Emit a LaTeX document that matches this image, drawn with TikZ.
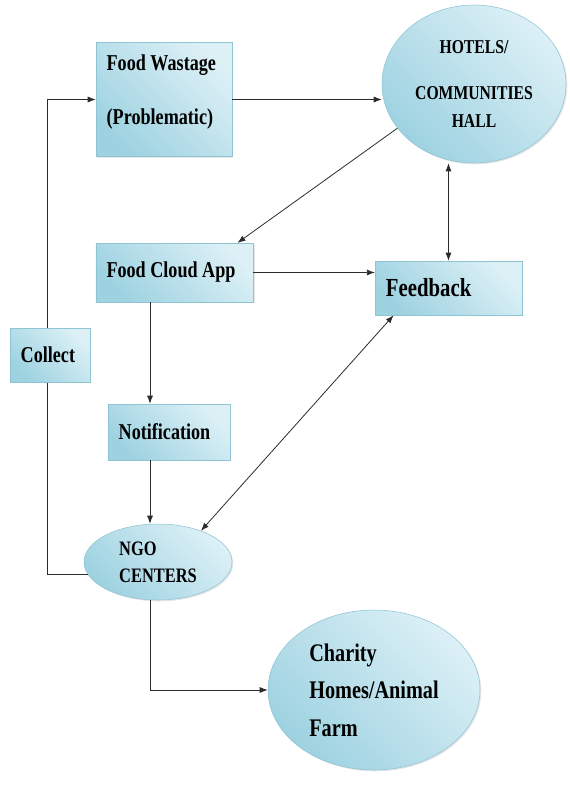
\documentclass[tikz,border=0pt]{standalone}
\usepackage{fontspec}
\setmainfont{Liberation Serif}
\newfontfamily\narrowserif[FakeStretch=0.8]{Liberation Serif}
\newcommand\fcsize[2]{\narrowserif\bfseries\fontsize{#1}{#2}\selectfont}
\definecolor{fcInk}{HTML}{2B2B2B}
\definecolor{fcLight}{HTML}{DCF0F6}
\definecolor{fcDark}{HTML}{9ED2E1}
\definecolor{fcEdge}{HTML}{8EC4D3}
\usetikzlibrary{arrows.meta,shapes.geometric,shadows}

\begin{document}
\begin{tikzpicture}[x=0.75pt,y=-0.75pt,
  flow/.style={draw=fcInk,line width=0.6pt,-{Latex[length=6pt,width=4.5pt]}},
  both/.style={flow,{Latex[length=6pt,width=4.5pt]}-{Latex[length=6pt,width=4.5pt]}},
  tint/.style={draw=fcEdge,left color=fcDark,right color=fcLight,shading angle=135,
               drop shadow={opacity=0.2,shadow xshift=1pt,shadow yshift=-1pt}},
  box/.style={tint,rectangle,align=flush left,inner xsep=8pt,inner ysep=0pt},
  blob/.style={tint,ellipse,inner sep=0pt}]
  \useasboundingbox (0,0) rectangle (569,786);

  \node[box,text width=86pt,minimum height=85.5pt,text depth=55pt,font=\fcsize{17}{20}] (waste) at (164,99.5)
    {Food Wastage\\[20pt](Problematic)};
  \node[blob,minimum width=138pt,minimum height=118.5pt,align=flush center,font=\fcsize{14.7}{21}] (hotels) at (474,84)
    {HOTELS/\\[14pt]COMMUNITIES\\HALL};
  \node[box,text width=102pt,minimum height=44pt,font=\fcsize{17}{20}] (app) at (174.5,272.5) {Food Cloud App};
  \node[box,text width=94pt,minimum height=40.5pt,font=\fcsize{19.5}{22}] (feedback) at (448.5,288) {Feedback};
  \node[box,text width=75.5pt,minimum height=42pt,font=\fcsize{17}{20}] (notif) at (169,432) {Notification};
  \node[blob,minimum width=111pt,minimum height=57pt,align=flush left,font=\fcsize{15.4}{20}] (ngo) at (158,562)
    {NGO\\CENTERS};
  \node[blob,minimum width=159pt,minimum height=120pt,align=flush left,font=\fcsize{19}{28}] (charity) at (374,690)
    {Charity\\Homes/Animal\\Farm};

  % connectors
  \coordinate (spine) at (150,0);
  \draw[flow] (ngo.190) -- ++(-40,0) |- (waste.west);
  \draw[flow] (waste.east) -- (waste.east -| hotels.west);
  \draw[flow] (hotels.210) -- ([xshift=-12pt]app.north east);
  \draw[flow] (app.east) -- (app.east -| feedback.west);
  \draw[both] (feedback.north) -- (feedback.north |- hotels.south);
  \draw[flow] (app.south -| spine) -- (notif.north -| spine);
  \draw[flow] (notif.south -| spine) -- (ngo.north -| spine);
  \draw[both] ([xshift=14pt]feedback.south west) -- (ngo.36);
  \draw[flow] (ngo.south -| spine) |- (charity.west);

  \node[box,text width=44pt,minimum height=40.5pt,font=\fcsize{17}{20}] (collect) at (50,355) {Collect};
\end{tikzpicture}
\end{document}
